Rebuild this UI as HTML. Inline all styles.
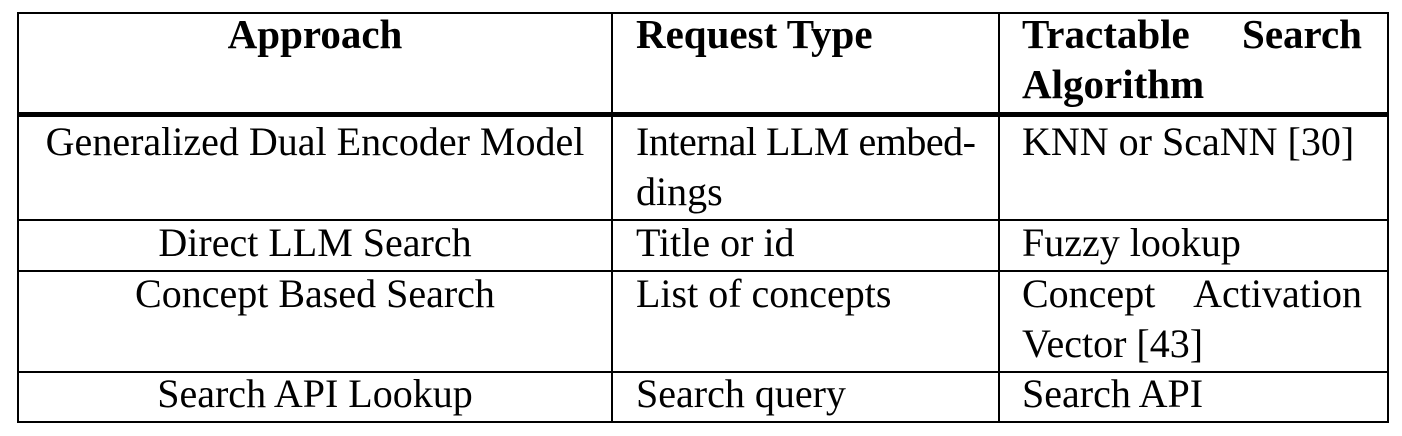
<!DOCTYPE html>
<html><head><meta charset="utf-8"><style>html,body{margin:0;padding:0;background:#fff;width:1402px;height:436px;overflow:hidden}</style></head>
<body>
<svg width="1402" height="436" xmlns="http://www.w3.org/2000/svg" style="display:block">
<g stroke="#000" stroke-width="2" fill="none">
<rect x="18" y="13" width="1370" height="409"/>
<line x1="612" y1="13" x2="612" y2="422"/>
<line x1="999" y1="13" x2="999" y2="422"/>
<line x1="18" y1="220" x2="1388" y2="220"/>
<line x1="18" y1="271" x2="1388" y2="271"/>
<line x1="18" y1="372" x2="1388" y2="372"/>
</g>
<rect x="18" y="112" width="1370" height="5" fill="#000"/>
<g font-family="Liberation Serif, serif" font-size="40" fill="#000">
<g font-weight="bold">
<text x="315" y="48" text-anchor="middle" font-size="41">Approach</text>
<text x="636" y="48" font-size="41">Request Type</text>
<text x="1022" y="48" font-size="41">Tractable</text>
<text x="1362" y="48" text-anchor="end" font-size="41">Search</text>
<text x="1022" y="98" font-size="41">Algorithm</text>
</g>
<text x="315" y="155" text-anchor="middle">Generalized Dual Encoder Model</text>
<text x="636" y="155" textLength="340">Internal LLM embed-</text>
<text x="636" y="205">dings</text>
<text x="1022" y="155">KNN or ScaNN [30]</text>
<text x="315" y="256" text-anchor="middle">Direct LLM Search</text>
<text x="636" y="256">Title or id</text>
<text x="1022" y="256">Fuzzy lookup</text>
<text x="315" y="307" text-anchor="middle">Concept Based Search</text>
<text x="636" y="307">List of concepts</text>
<text x="1022" y="307">Concept</text>
<text x="1362" y="307" text-anchor="end">Activation</text>
<text x="1022" y="357">Vector [43]</text>
<text x="315" y="407" text-anchor="middle">Search API Lookup</text>
<text x="636" y="407">Search query</text>
<text x="1022" y="407">Search API</text>
</g>
</svg>
</body></html>
